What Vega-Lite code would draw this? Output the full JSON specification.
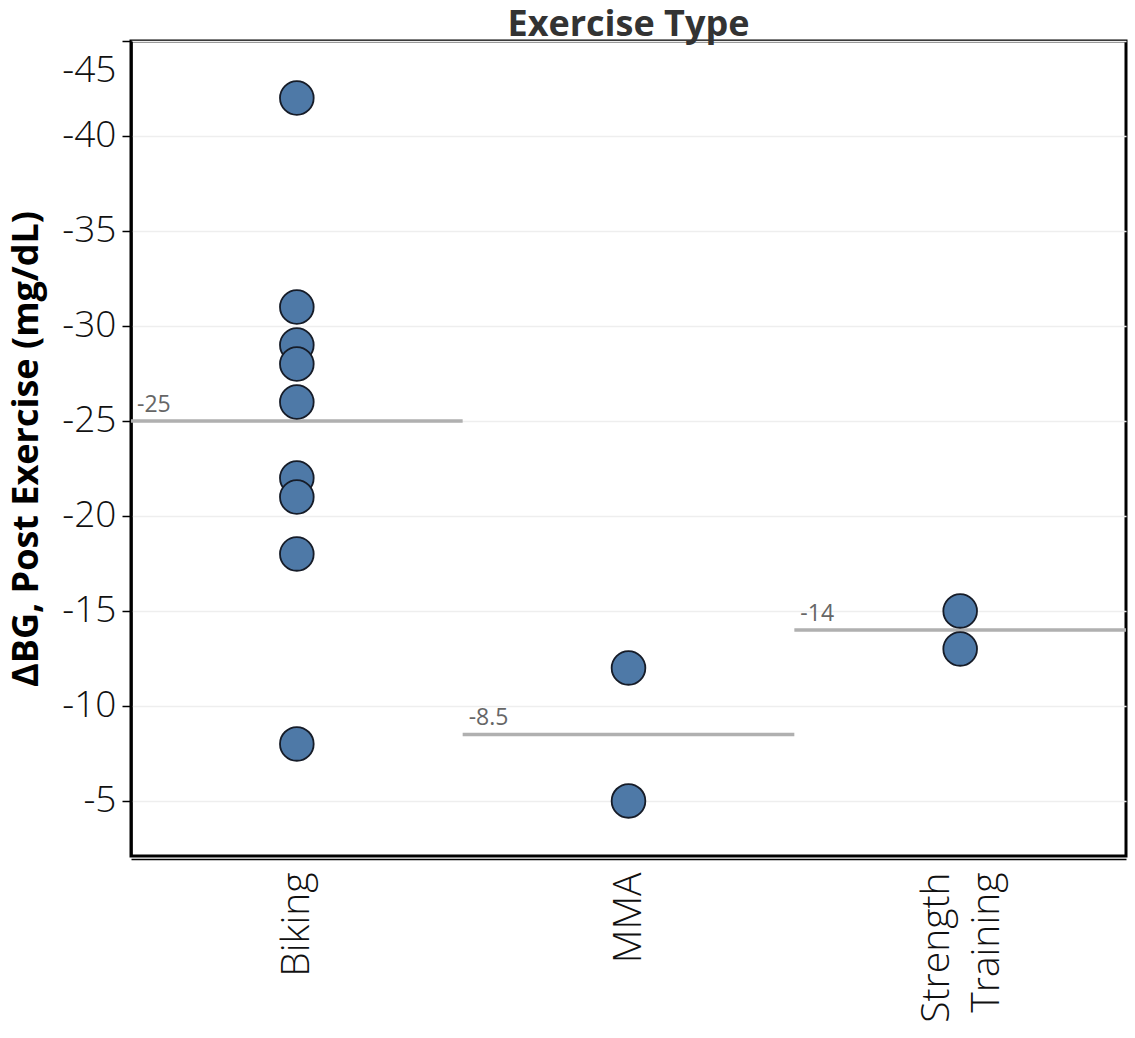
{
  "$schema": "https://vega.github.io/schema/vega-lite/v6.json",
  "autosize": "none",
  "padding": {"left": 131, "top": 41, "right": 9, "bottom": 182},
  "width": 995,
  "height": 815,
  "config": {
    "font": "Open Sans",
    "view": {"stroke": "black", "strokeWidth": 3},
    "locale": {
      "number": {"decimal": ".", "thousands": ",", "grouping": [3], "currency": ["$", ""], "minus": "-"}
    }
  },
  "title": {
    "text": "Exercise Type",
    "font": "Open Sans",
    "fontSize": 36,
    "fontWeight": "bold",
    "color": "#333333",
    "frame": "group",
    "anchor": "middle",
    "offset": -4
  },
  "data": {
    "values": [
      {"exercise": "Biking", "delta": -42},
      {"exercise": "Biking", "delta": -31},
      {"exercise": "Biking", "delta": -29},
      {"exercise": "Biking", "delta": -28},
      {"exercise": "Biking", "delta": -26},
      {"exercise": "Biking", "delta": -22},
      {"exercise": "Biking", "delta": -21},
      {"exercise": "Biking", "delta": -18},
      {"exercise": "Biking", "delta": -8},
      {"exercise": "MMA", "delta": -12},
      {"exercise": "MMA", "delta": -5},
      {"exercise": "Strength Training", "delta": -15},
      {"exercise": "Strength Training", "delta": -13}
    ]
  },
  "encoding": {
    "x": {
      "field": "exercise",
      "type": "nominal",
      "sort": ["Biking", "MMA", "Strength Training"],
      "scale": {"paddingInner": 0, "paddingOuter": 0},
      "axis": {
        "title": null,
        "labelAngle": -90,
        "labelAlign": "right",
        "labelBaseline": "middle",
        "labelFont": "Open Sans",
        "labelFontSize": 39,
        "labelFontWeight": 300,
        "labelColor": "#111111",
        "labelLineHeight": 50,
        "labelExpr": "datum.label == 'Strength Training' ? ['Strength', 'Training'] : datum.label",
        "labelOffset": {"condition": {"test": "datum.value == 'Strength Training'", "value": -23}, "value": 0},
        "labelPadding": 13,
        "offset": 3,
        "domainColor": "black",
        "domainWidth": 1.5,
        "ticks": false,
        "grid": false
      }
    }
  },
  "layer": [
    {
      "transform": [
        {"aggregate": [{"op": "mean", "field": "delta", "as": "avg"}], "groupby": ["exercise"]}
      ],
      "layer": [
        {
          "mark": {"type": "bar", "filled": false, "stroke": "#b0b0b0", "strokeWidth": 3.5},
          "encoding": {
            "y": {
              "field": "avg",
              "type": "quantitative",
              "title": "ΔBG, Post Exercise (mg/dL)",
              "scale": {"domain": [-45, -2.1], "reverse": true, "nice": false, "zero": false}
            },
            "y2": {"field": "avg"}
          }
        },
        {
          "mark": {
            "type": "text",
            "align": "left",
            "baseline": "alphabetic",
            "dx": 6,
            "dy": -9,
            "font": "Open Sans",
            "fontSize": 23,
            "color": "#666666"
          },
          "encoding": {
            "x": {"field": "exercise", "type": "nominal", "sort": ["Biking", "MMA", "Strength Training"], "bandPosition": 0},
            "y": {"field": "avg", "type": "quantitative", "title": "ΔBG, Post Exercise (mg/dL)"},
            "text": {"field": "avg", "type": "quantitative", "format": "~g"}
          }
        }
      ]
    },
    {
      "mark": {
        "type": "circle",
        "size": 1134,
        "fill": "#4e79a7",
        "opacity": 1,
        "stroke": "#161c28",
        "strokeWidth": 1.8
      },
      "encoding": {
        "y": {
          "field": "delta",
          "type": "quantitative",
          "title": "ΔBG, Post Exercise (mg/dL)",
          "scale": {"domain": [-45, -2.1], "reverse": true, "nice": false, "zero": false},
          "axis": {
            "values": [-45, -40, -35, -30, -25, -20, -15, -10, -5],
            "labelFont": "Open Sans",
            "labelFontSize": 37,
            "labelFontWeight": 300,
            "labelColor": "#111111",
            "labelPadding": 6,
            "labelFlush": true,
            "labelFlushOffset": -11,
            "tickColor": "black",
            "tickSize": 9,
            "tickWidth": 1.5,
            "domainColor": "black",
            "domainWidth": 2.5,
            "grid": true,
            "gridColor": "#eeeeee",
            "gridWidth": 1.5,
            "titleFont": "Open Sans",
            "titleFontSize": 36,
            "titleFontWeight": "bold",
            "titleColor": "black",
            "titlePadding": 16
          }
        }
      }
    }
  ]
}
